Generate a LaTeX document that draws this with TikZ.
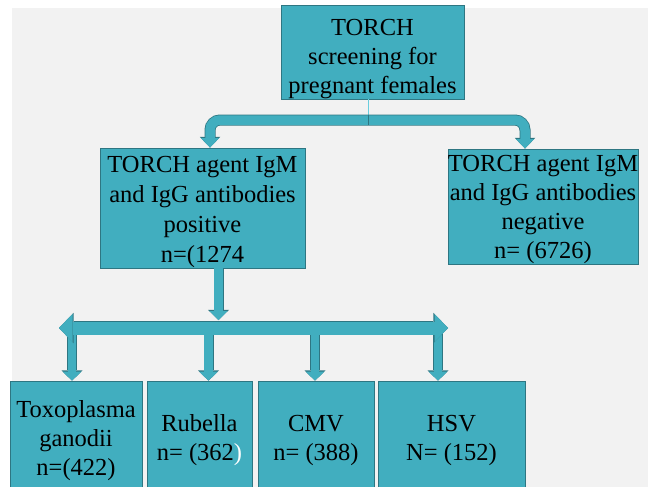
\documentclass[tikz,border=0pt]{standalone}
\usepackage{fontspec}
\setmainfont{Liberation Serif}
\usepackage{tikz}
\usetikzlibrary{arrows.meta, positioning}
\definecolor{torchteal}{RGB}{65, 174, 191}
\definecolor{torchrim}{RGB}{46, 118, 130}
\definecolor{slide}{RGB}{242, 242, 242}
\definecolor{stemline}{RGB}{105, 205, 222}
\newcommand{\boxfont}{\fontsize{24.5}{29}\selectfont}
\newcommand{\pushdown}[1]{\rule{0pt}{#1}}
\tikzset{
    box/.style={rectangle, draw=torchrim, fill=torchteal, line width=0.7pt, inner sep=0pt, align=center, font=\boxfont},
    fork/.style={draw=torchteal, line width=9.5pt, rounded corners=10pt,
        {Triangle[width=18pt, length=9.5pt, line width=0pt]}-{Triangle[width=18pt, length=9.5pt, line width=0pt]},
        preaction={draw=torchrim, line width=11pt, {Triangle[width=20.5pt, length=10.7pt, line width=0pt]}-{Triangle[width=20.5pt, length=10.7pt, line width=0pt]}}},
    drop/.style={draw=torchteal, line width=8.5pt,
        -{Triangle[width=18.5pt, length=9pt, line width=0pt]},
        preaction={draw=torchrim, line width=10pt, -{Triangle[width=21pt, length=10.2pt, line width=0pt]}}},
    span/.style={draw=torchteal, line width=13pt,
        {Triangle[width=28pt, length=13.5pt, line width=0pt]}-{Triangle[width=28pt, length=13.5pt, line width=0pt]},
        preaction={draw=torchrim, line width=14.5pt, {Triangle[width=30.5pt, length=14.7pt, line width=0pt]}-{Triangle[width=30.5pt, length=14.7pt, line width=0pt]}}},
    stem/.style={-, stemline, line width=0.8pt},
}
\begin{document}
\begin{tikzpicture}[x=1pt, y=-1pt]
        \useasboundingbox (0,0) rectangle (648,487);
        \clip (0,0) rectangle (648,487);
        \fill [white] (0,0) rectangle (648,487);
        \fill [slide] (12,8) rectangle (648,487);

        \node [box, minimum width=183pt, minimum height=88pt] (top) at (372.5,52) {\pushdown{31pt}TORCH\\screening for\\pregnant females};

        \node [box, minimum width=205pt, minimum height=110pt, font=\fontsize{24.5}{30}\selectfont] (pos) at (202.5,208) {\pushdown{25pt}TORCH agent IgM\\and IgG antibodies\\positive\\n=(1274};
        \node [box, minimum width=188pt, minimum height=113pt] (neg) at (543,206.5) {\pushdown{23pt}TORCH agent IgM\\and IgG antibodies\\negative\\n= (6726)};

        \node [box, minimum width=132pt, minimum height=114pt] (toxo) at (76,438) {\pushdown{22pt}Toxoplasma\\ganodii\\n=(422)};
        \node [box, minimum width=105pt, minimum height=114pt] (rub) at (199.5,438) {\pushdown{22pt}Rubella\\n= (362\textcolor{white}{)}};
        \node [box, minimum width=116pt, minimum height=114pt] (cmv) at (316,438) {\pushdown{21.5pt}CMV\\n= (388)};
        \node [box, minimum width=147pt, minimum height=114pt] (hsv) at (451.5,438) {\pushdown{21.5pt}HSV\\N= (152)};

        \coordinate (fork) at (368,120);
        \coordinate (hub) at (218.5,320);
        \coordinate (hl) at (59,328);
        \coordinate (hr) at (448,328);

        \draw [stem] ([xshift=-4.5pt]top.south) -- (fork);
        \draw [fork] ([xshift=7.5pt]pos.north) |- (fork) -| ([xshift=-18pt]neg.north);
        \draw [torchrim, line width=0.6pt] ([yshift=4.8pt]fork) -- ([yshift=-4.8pt]fork);

        \draw [drop] ([xshift=16pt]pos.south) -- (hub);

        \draw [drop] ([xshift=-4pt]toxo.north |- hl) -- ([xshift=-4pt]toxo.north);
        \draw [drop] ([xshift=9pt]rub.north |- hl) -- ([xshift=9pt]rub.north);
        \draw [drop] ([xshift=-1pt]cmv.north |- hl) -- ([xshift=-1pt]cmv.north);
        \draw [drop] ([xshift=-13.5pt]hsv.north |- hl) -- ([xshift=-13.5pt]hsv.north);

        \draw [span] (hl) -- (hr);
    \end{tikzpicture}
\end{document}
